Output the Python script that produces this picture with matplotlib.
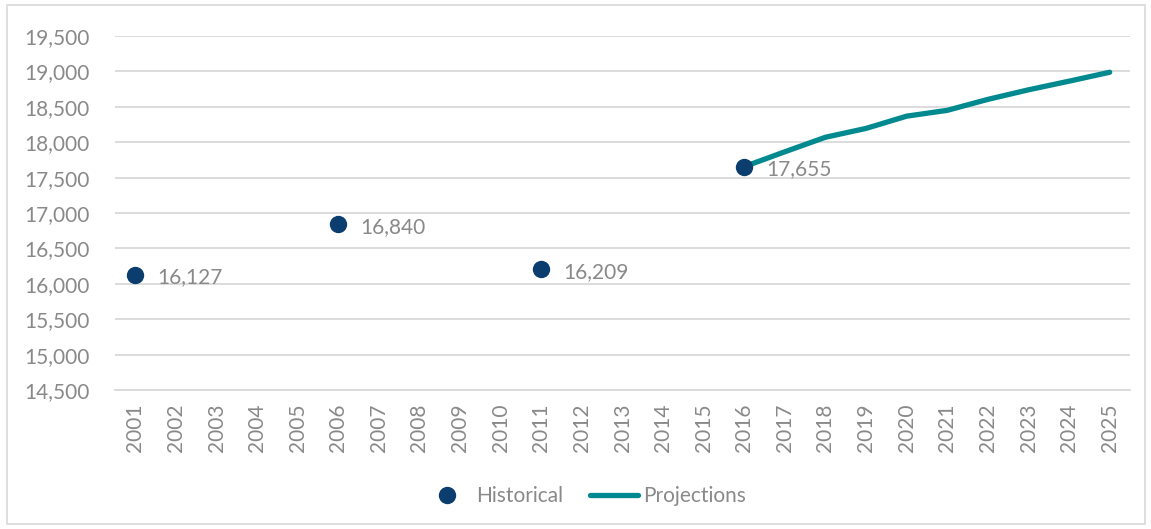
import matplotlib.pyplot as plt
import numpy as np
from matplotlib.patches import Rectangle
from matplotlib.ticker import FuncFormatter

plt.rcParams['font.family'] = ['Lato', 'DejaVu Sans']

# Years on the category axis
years = [str(y) for y in range(2001, 2026)]

# Census counts (historical) and projected values
hist_years = ['2001', '2006', '2011', '2016']
hist_values = [16127, 16840, 16209, 17655]
proj_years = ['2016', '2017', '2018', '2019', '2020', '2021', '2022', '2023', '2024', '2025']
proj_values = [17655, 17865, 18070, 18195, 18368, 18450, 18605, 18740, 18862, 18988]

text_grey = '#898989'
grid_grey = '#d9d9d9'
navy = '#0b3e6f'
teal = '#00898f'

fig = plt.figure(figsize=(11.51, 5.29), dpi=100)
ax = fig.add_axes([115 / 1151, 1 - 390 / 529, 1015 / 1151, 354 / 529])

xpos = {y: i for i, y in enumerate(years)}
hx = [xpos[y] for y in hist_years]
px = [xpos[y] for y in proj_years]

ax.plot(px, proj_values, color=teal, lw=3.8, solid_capstyle='round',
        label='Projections', zorder=2)
ax.plot(hx, hist_values, 'o', color=navy, ms=11.5, ls='none',
        label='Historical', zorder=3)

for x, v in zip(hx, hist_values):
    ax.annotate(f'{v:,}', (x, v), xytext=(16, -2), textcoords='offset points',
                ha='left', va='center', fontsize=15, color=text_grey)

ax.set_xlim(-0.5, len(years) - 0.5)
ax.set_ylim(14500, 19500)
ax.set_yticks(np.arange(14500, 19501, 500))
ax.yaxis.set_major_formatter(FuncFormatter(lambda v, p: f'{int(v):,}'))
ax.set_xticks(range(len(years)))
ax.set_xticklabels(years, rotation=90)

ax.grid(axis='y', color=grid_grey, lw=1.3)
ax.set_axisbelow(True)
for s in ['top', 'right', 'left']:
    ax.spines[s].set_visible(False)
ax.spines['bottom'].set_color(grid_grey)
ax.spines['bottom'].set_linewidth(1.3)
ax.tick_params(axis='both', length=0, labelsize=15, labelcolor=text_grey)
ax.tick_params(axis='y', pad=18)
ax.tick_params(axis='x', pad=10)

handles, labels = ax.get_legend_handles_labels()
fig.legend(handles[::-1], labels[::-1], loc='center', bbox_to_anchor=(0.508, 1 - 496 / 529),
           ncol=2, frameon=False, fontsize=15, labelcolor=text_grey,
           handlelength=2.3, handletextpad=0.25, columnspacing=1.3)

fig.patches.append(Rectangle((7 / 1151, 5 / 529), 1138 / 1151, 519 / 529,
                             transform=fig.transFigure, fill=False,
                             edgecolor=grid_grey, lw=1.2))

fig.savefig('out.png', dpi=100)
